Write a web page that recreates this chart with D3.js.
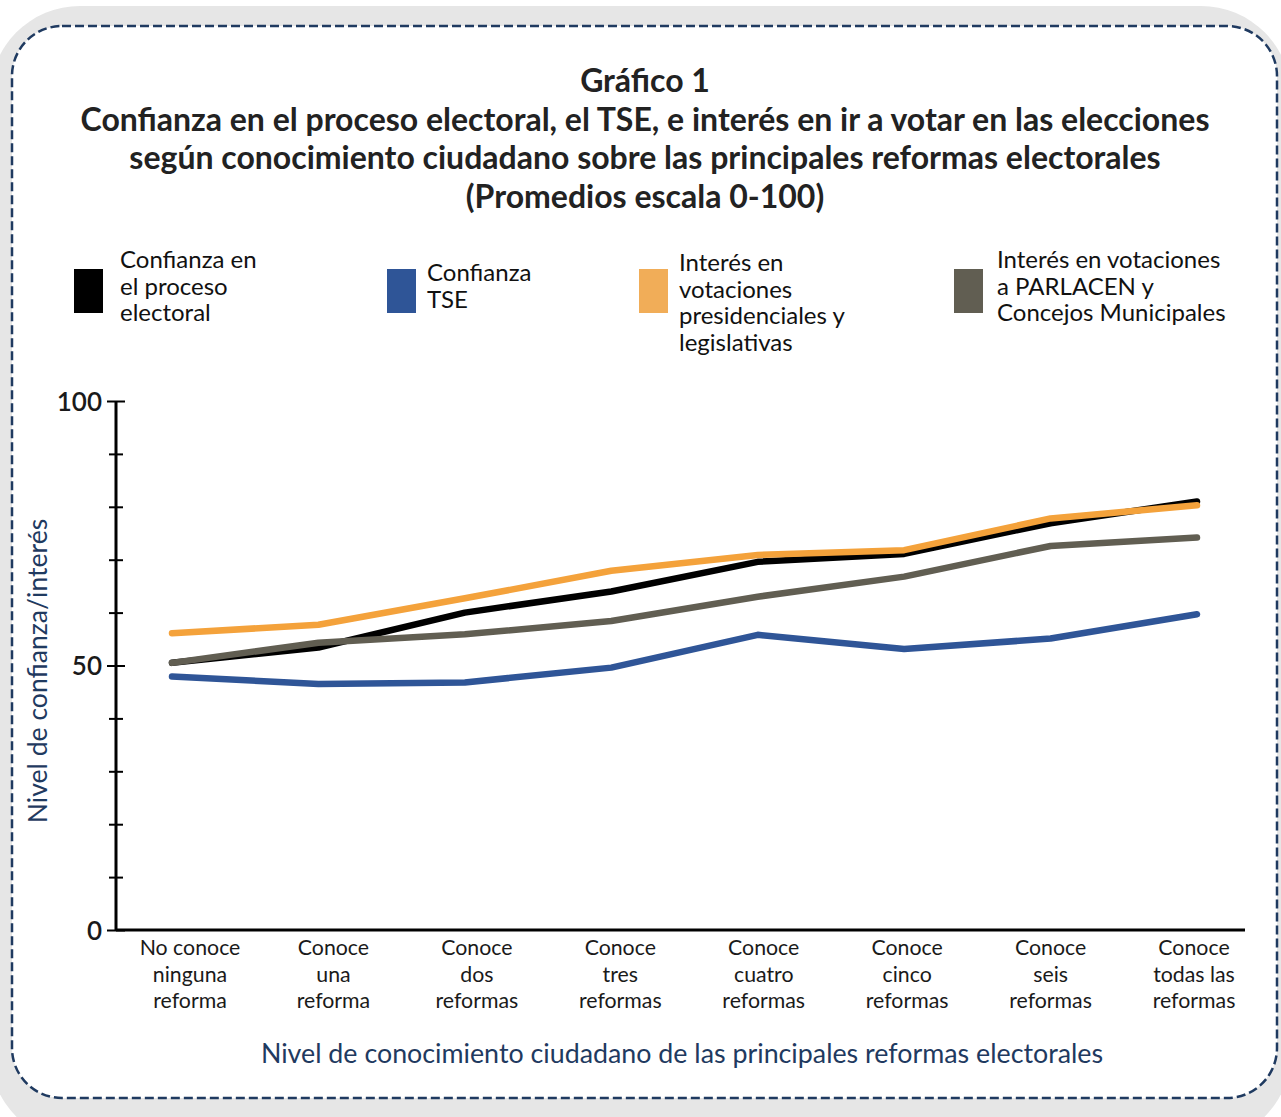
<!DOCTYPE html>
<meta charset="utf-8">
<script src="https://d3js.org/d3.v7.min.js"></script>
<style>
body { margin: 0; background: #fff; font-family: Lato, "Open Sans", sans-serif; }
svg text { font-family: Lato, "Open Sans", sans-serif; }
</style>
<body>
<script>
// --- data ---
var categories = [
  ["No conoce", "ninguna", "reforma"],
  ["Conoce", "una", "reforma"],
  ["Conoce", "dos", "reformas"],
  ["Conoce", "tres", "reformas"],
  ["Conoce", "cuatro", "reformas"],
  ["Conoce", "cinco", "reformas"],
  ["Conoce", "seis", "reformas"],
  ["Conoce", "todas las", "reformas"]
];
var confianzaProceso = [50.5, 53.4, 60.0, 64.0, 69.6, 71.1, 76.9, 81.0];
var confianzaTSE = [47.9, 46.5, 46.8, 49.6, 55.8, 53.1, 55.1, 59.7];
var interesPresidenciales = [56.1, 57.7, 62.7, 67.9, 70.9, 71.8, 77.8, 80.3];
var interesParlacen = [50.5, 54.3, 55.9, 58.4, 63.0, 66.8, 72.6, 74.2];
var yTicks = [0, 10, 20, 30, 40, 50, 60, 70, 80, 90, 100];
var yLabels = [0, 50, 100];

var titleLines = [
  "Gráfico 1",
  "Confianza en el proceso electoral, el TSE, e interés en ir a votar en las elecciones",
  "según conocimiento ciudadano sobre las principales reformas electorales",
  "(Promedios escala 0-100)"
];

var series = [
  { name: ["Confianza en", "el proceso", "electoral"], values: confianzaProceso, color: "#000000", swatch: "#000000" },
  { name: ["Confianza", "TSE"], values: confianzaTSE, color: "#2f5597", swatch: "#2f5597" },
  { name: ["Interés en", "votaciones", "presidenciales y", "legislativas"], values: interesPresidenciales, color: "#f4a23b", swatch: "#f1ad58" },
  { name: ["Interés en votaciones", "a PARLACEN y", "Concejos Municipales"], values: interesParlacen, color: "#615e52", swatch: "#615e52" }
];

var W = 1281, H = 1117;
var svg = d3.select("body").append("svg")
  .attr("width", W)
  .attr("height", H);

// frame
svg.append("rect")
  .attr("x", -10).attr("y", 6)
  .attr("width", W + 20).attr("height", H + 20)
  .attr("rx", 90)
  .attr("fill", "#e6e6e6");
svg.append("rect")
  .attr("x", 12).attr("y", 26)
  .attr("width", 1265).attr("height", 1072)
  .attr("rx", 50)
  .attr("fill", "#fff")
  .attr("stroke", "#1f3a60")
  .attr("stroke-width", 2.5)
  .attr("stroke-dasharray", "9,4");

// title
svg.append("g").selectAll("text")
  .data(titleLines)
  .enter().append("text")
  .attr("x", 645)
  .attr("y", function(d, i) { return 92 + i * 38.7; })
  .attr("text-anchor", "middle")
  .attr("font-size", 32)
  .attr("font-weight", "bold")
  .attr("fill", "#222")
  .text(function(d) { return d; });

// legend
var legendX = [74, 387, 639, 954];
var legendTextX = [46, 40, 40, 43];
var legendY = [268, 281, 271, 268];
var legend = svg.append("g").selectAll("g")
  .data(series)
  .enter().append("g")
  .attr("transform", function(d, i) { return "translate(" + legendX[i] + ",0)"; });
legend.append("rect")
  .attr("y", 269).attr("width", 29).attr("height", 44)
  .attr("fill", function(d) { return d.swatch; });
legend.each(function(d, i) {
  d3.select(this).selectAll("text")
    .data(d.name)
    .enter().append("text")
    .attr("x", legendTextX[i])
    .attr("y", function(t, j) { return legendY[i] + j * 26.6; })
    .attr("font-size", 24)
    .attr("fill", "#111")
    .text(function(t) { return t; });
});

// scales
var x = d3.scalePoint().domain(d3.range(categories.length)).range([172, 1197]);
var xLab = d3.scalePoint().domain(d3.range(categories.length)).range([190, 1194]);
var y = d3.scaleLinear().domain([0, 100]).range([930, 401]);

// y axis
var yAxis = svg.append("g")
  .attr("transform", "translate(116,0)")
  .call(d3.axisLeft(y).tickValues(yTicks).tickSize(0).tickPadding(14)
    .tickFormat(function(d) { return yLabels.indexOf(d) >= 0 ? d : ""; }));
yAxis.select(".domain").attr("stroke", "#000").attr("stroke-width", 3)
  .attr("d", "M0," + y(100) + "V" + y(0));
yAxis.selectAll(".tick line")
  .attr("stroke", "#000").attr("stroke-width", 2)
  .attr("x1", function(d) { return yLabels.indexOf(d) >= 0 ? -9 : -7; })
  .attr("x2", function(d) { return yLabels.indexOf(d) >= 0 ? 9 : 7; });
yAxis.selectAll(".tick text")
  .attr("font-size", 26)
  .attr("font-weight", 600)
  .attr("fill", "#1a1a1a")
  .attr("dy", "0.36em");

// x axis
var xAxis = svg.append("g")
  .attr("transform", "translate(0,930)");
xAxis.append("line")
  .attr("x1", 116).attr("x2", 1245)
  .attr("stroke", "#000").attr("stroke-width", 3);
var xTicks = xAxis.selectAll("g.cat")
  .data(categories)
  .enter().append("g")
  .attr("class", "cat")
  .attr("transform", function(d, i) { return "translate(" + xLab(i) + ",0)"; });
xTicks.each(function(d) {
  d3.select(this).selectAll("text")
    .data(d)
    .enter().append("text")
    .attr("y", function(t, j) { return 25 + j * 26.6; })
    .attr("text-anchor", "middle")
    .attr("font-size", 21.3)
    .attr("fill", "#1a1a1a")
    .text(function(t) { return t; });
});

// axis titles
svg.append("text")
  .attr("x", 682).attr("y", 1063)
  .attr("text-anchor", "middle")
  .attr("font-size", 26.8)
  .attr("fill", "#1f3a60")
  .text("Nivel de conocimiento ciudadano de las principales reformas electorales");
svg.append("text")
  .attr("transform", "translate(47,671) rotate(-90)")
  .attr("text-anchor", "middle")
  .attr("font-size", 26.6)
  .attr("fill", "#1f3a60")
  .text("Nivel de confianza/interés");

// lines
var line = d3.line()
  .x(function(d, i) { return x(i); })
  .y(function(d) { return y(d); });
var drawOrder = [1, 0, 2, 3];
svg.append("g").selectAll("path")
  .data(drawOrder.map(function(k) { return series[k]; }))
  .enter().append("path")
  .attr("d", function(d) { return line(d.values); })
  .attr("fill", "none")
  .attr("stroke", function(d) { return d.color; })
  .attr("stroke-width", 6.5)
  .attr("stroke-linecap", "round")
  .attr("stroke-linejoin", "round");
</script>
</body>
</html>
